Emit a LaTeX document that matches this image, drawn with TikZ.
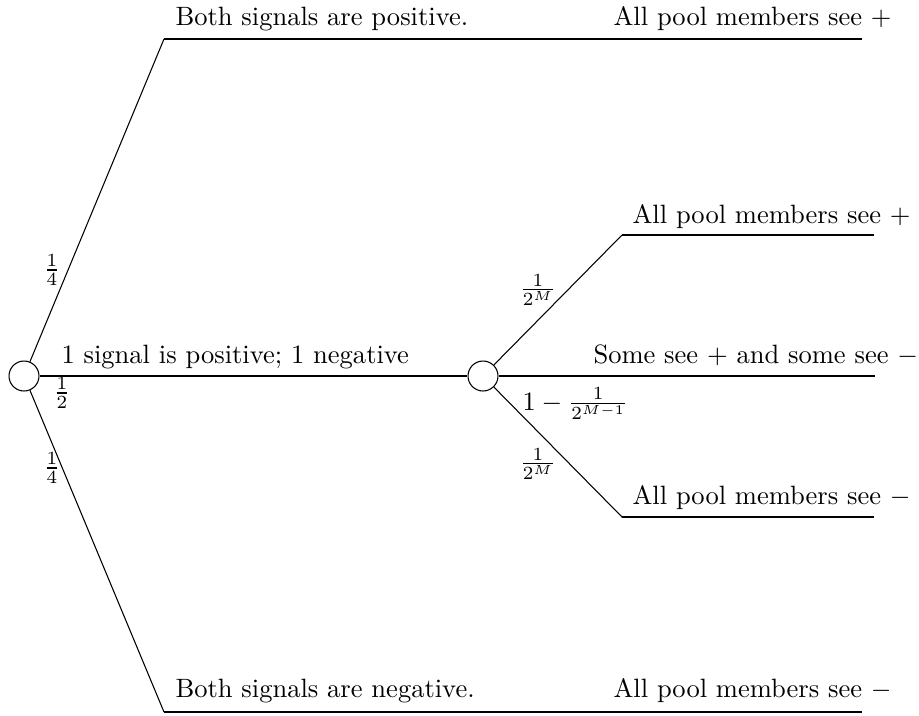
\documentclass[tikz,border=0pt]{standalone}
\usepackage{amsmath}
\begin{document}
\begin{tikzpicture}[x=0.377pt,y=-0.377pt,
  chance/.style={circle,draw,line width=0.4pt,minimum size=11.3pt,inner sep=0pt},
  hline/.style={line width=0.75pt},
  dline/.style={line width=0.4pt},
  lbl/.style={inner sep=0pt},
  prob/.style={inner sep=0pt}]
\useasboundingbox (0,0) rectangle (919,715);
\node[chance] (c1) at (24,376) {};
\node[chance] (c2) at (483,376) {};
\coordinate (t1) at (164,39);
\coordinate (t2) at (862,39);
\coordinate (b1) at (164,712);
\coordinate (b2) at (862,712);
\coordinate (u1) at (622,235);
\coordinate (u2) at (874,235);
\coordinate (m2) at (875,376);
\coordinate (d1) at (622,517);
\coordinate (d2) at (874,517);
\draw[dline] (c1) -- (t1);
\draw[hline] (t1) -- (t2);
\draw[dline] (c1) -- (b1);
\draw[hline] (b1) -- (b2);
\draw[hline] (c1) -- (c2);
\draw[dline] (c2) -- (u1);
\draw[hline] (u1) -- (u2);
\draw[hline] (c2) -- (m2);
\draw[dline] (c2) -- (d1);
\draw[hline] (d1) -- (d2);
% texts
\node[lbl,anchor=base west] (tt) at (175,25) {Both signals are positive.};
\node[lbl,anchor=base west] (tr) at (613,25) {All pool members see $+$};
\node[lbl,anchor=base west] (ms) at (61,363) {1 signal is positive; 1 negative};
\node[lbl,anchor=base west] (ur) at (632,223) {All pool members see $+$};
\node[lbl,anchor=base west] (mr) at (593,363) {Some see $+$ and some see $-$};
\node[lbl,anchor=base west] (dr) at (632,504) {All pool members see $-$};
\node[lbl,anchor=base west] (bt) at (175,697) {Both signals are negative.};
\node[lbl,anchor=base west] (br) at (613,697) {All pool members see $-$};
% probabilities
\node[prob] (p1) at (52,270) {$\frac{1}{4}$};
\node[prob] (p2) at (62,393) {$\frac{1}{2}$};
\node[prob] (p3) at (52,468) {$\frac{1}{4}$};
\node[prob] (p4) at (538,290) {$\frac{1}{2^M}$};
\node[prob] (p5) at (538,464) {$\frac{1}{2^M}$};
\node[prob,anchor=base west] (p6) at (522,410) {$1-\frac{1}{2^{M-1}}$};
\end{tikzpicture}
\end{document}
